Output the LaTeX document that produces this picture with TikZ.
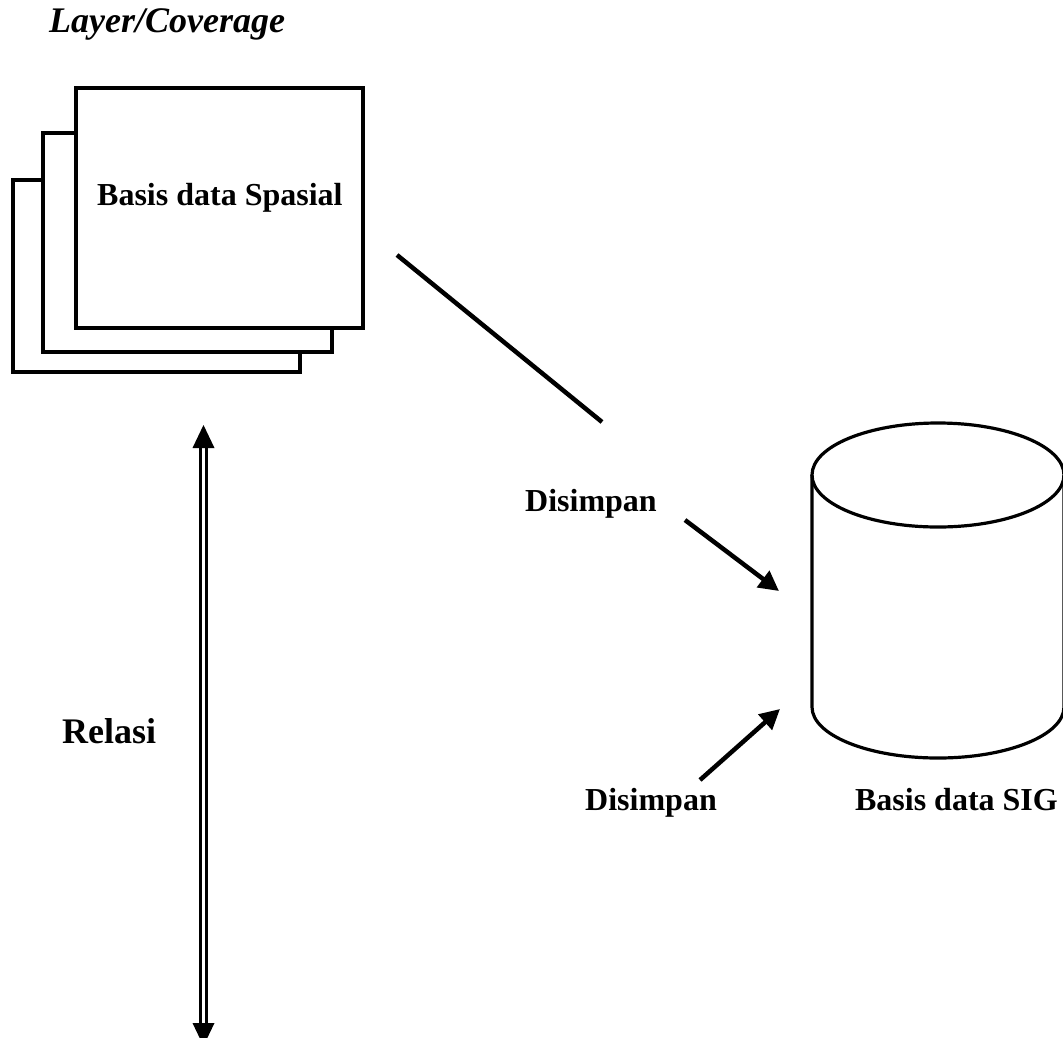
\documentclass[tikz,border=0pt]{standalone}
\usepackage{fontspec}
\setmainfont{Liberation Serif}
\usetikzlibrary{arrows.meta}
\tikzset{
  layerbox/.style={draw, fill=white, line width=3.2pt, inner sep=0pt, outer sep=0pt, anchor=north west},
  lbl/.style={inner sep=0pt, font=\fontsize{32}{38}\selectfont\bfseries},
  biglbl/.style={inner sep=0pt, font=\fontsize{36}{43}\selectfont\bfseries},
  link/.style={line width=4.5pt},
  flow/.style={line width=4.5pt, -{Triangle[length=20pt,width=20pt]}},
  dbl/.style={line width=2.8pt, double, double distance=2.8pt},
  dbltip/.style={fill=black, draw=none},
  cyl/.style={line width=3.2pt}
}
\begin{document}
\begin{tikzpicture}[x=1pt,y=-1pt]
\useasboundingbox (0,0) rectangle (1063,1037);
% title
\node[biglbl, font=\fontsize{36}{43}\selectfont\bfseries\itshape, anchor=base west] (title) at (49,32) {Layer/Coverage};
% stacked layers
\node[layerbox, minimum width=287pt, minimum height=192pt] (l3) at (13,180) {};
\node[layerbox, minimum width=289pt, minimum height=219pt] (l2) at (43,133) {};
\node[layerbox, minimum width=287pt, minimum height=240pt] (l1) at (76,88) {};
\node[lbl, anchor=base west] (spasial) at (97,205) {Basis data Spasial};
% diagonal link
\coordinate (d1) at (397,255);
\coordinate (d2) at (602,422);
\draw[link] (d1) -- (d2);
% labels
\node[lbl, anchor=base west] (dis1) at (525,511) {Disimpan};
\node[lbl, anchor=base east] (dis2) at (717,810) {Disimpan};
\node[lbl, anchor=base east] (sig) at (1058,810) {Basis data SIG};
\node[biglbl, anchor=base west] (relasi) at (62,743) {Relasi};
% arrows to database
\coordinate (a1s) at (685,520);
\coordinate (a1e) at (779,591);
\draw[flow] (a1s) -- (a1e);
\coordinate (a2s) at (700,780);
\coordinate (a2e) at (780,709);
\draw[flow] (a2s) -- (a2e);
% cylinder
\coordinate (cyl) at (938,475);
\draw[cyl] (cyl) ellipse [x radius=126pt, y radius=52pt];
\draw[cyl] (812,475) -- (812,707) arc[start angle=180, end angle=360, x radius=126pt, y radius=51pt] -- (1064,475);
% double arrow (Relasi)
\coordinate (rtop) at (203.5,425);
\coordinate (rbot) at (203.5,1046);
\draw[dbl] (203.5,446) -- (203.5,1025);
\fill[dbltip] (rtop) -- (214.5,448) -- (192.5,448) -- cycle;
\fill[dbltip] (rbot) -- (214.5,1023) -- (192.5,1023) -- cycle;
\end{tikzpicture}
\end{document}
